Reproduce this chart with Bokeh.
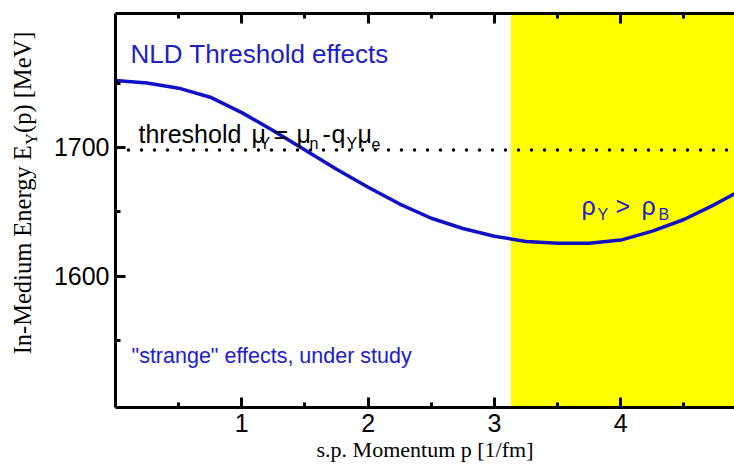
import math
from bokeh.plotting import figure
from bokeh.layouts import row
from bokeh.models import Range1d, Label, BoxAnnotation, Span, FixedTicker, LinearAxis
from bokeh.embed import file_html
from bokeh.resources import INLINE

# ---------------- data ----------------
momentum = [0.0, 0.25, 0.5, 0.75, 1.0, 1.25, 1.5, 1.75, 2.0, 2.25, 2.5, 2.75,
            3.0, 3.25, 3.5, 3.75, 4.0, 4.25, 4.5, 4.75, 4.9]
energy = [1752, 1750, 1746, 1739, 1727, 1713, 1698, 1683, 1669, 1656, 1645, 1637,
          1631, 1627, 1625.5, 1625.5, 1628, 1635, 1644, 1656, 1664]
threshold_energy = 1698
yellow_start = 3.13
x_major = [1, 2, 3, 4]
x_minor = [0.5, 1.5, 2.5, 3.5, 4.5]
y_major = [1600, 1700]
y_minor = [1550, 1650, 1750]
x_lim = (0.0, 4.9)
y_lim = (1498, 1804)
x_title = "s.p. Momentum p [1/fm]"

# ---------------- layout (page pixels) ----------------
PAGE_W, PAGE_H = 734, 464
LW = 50                       # width of the y-title strip
FL, FR, FT, FB = 115.0, 734.0, 13.0, 407.0   # frame edges on the page

p = figure(width=PAGE_W - LW, height=PAGE_H, x_range=Range1d(*x_lim),
           y_range=Range1d(*y_lim), toolbar_location=None, output_backend="svg",
           x_axis_type=None, y_axis_type=None,
           min_border_left=int(FL - LW), min_border_right=0,
           min_border_top=int(FT), min_border_bottom=int(PAGE_H - FB))
p.outline_line_color = None
p.xgrid.visible = False
p.ygrid.visible = False
p.background_fill_color = "white"
p.border_fill_color = "white"


def ref(px, py):
    x = x_lim[0] + (px - FL) / (FR - FL) * (x_lim[1] - x_lim[0])
    y = y_lim[1] - (py - FT) / (FB - FT) * (y_lim[1] - y_lim[0])
    return x, y


def style(ax, show_labels=True):
    ax.axis_line_width = 3
    ax.axis_line_color = "black"
    ax.major_tick_in = 10
    ax.major_tick_out = 0
    ax.minor_tick_in = 5
    ax.minor_tick_out = 0
    ax.major_tick_line_width = 3
    ax.minor_tick_line_width = 3
    ax.major_label_text_font = "Liberation Sans"
    ax.major_label_text_color = "black"
    if show_labels:
        ax.major_label_text_font_size = "25px"
        ax.major_label_standoff = 6
    else:
        ax.major_label_text_font_size = "1px"
        ax.major_label_standoff = 0
        ax.major_label_overrides = {t: "" for t in x_major}


bx = LinearAxis(ticker=FixedTicker(ticks=x_major, minor_ticks=x_minor))
style(bx)
bx.major_label_standoff = 6
bx.axis_label = x_title
bx.axis_label_text_font = "Liberation Serif"
bx.axis_label_text_font_size = "22px"
bx.axis_label_text_font_style = "normal"
bx.axis_label_text_color = "black"
bx.axis_label_standoff = 2
p.add_layout(bx, "below")

ly = LinearAxis(ticker=FixedTicker(ticks=y_major, minor_ticks=y_minor))
style(ly)
p.add_layout(ly, "left")

ax_top = LinearAxis(ticker=FixedTicker(ticks=x_major, minor_ticks=x_minor))
style(ax_top, show_labels=False)
p.add_layout(ax_top, "above")

# yellow region
p.add_layout(BoxAnnotation(left=yellow_start, fill_color="#ffff00", fill_alpha=1.0,
                           line_alpha=0, level="underlay"))
# threshold dotted line
p.add_layout(Span(location=threshold_energy, dimension="width", line_color="black",
                  line_width=3.5, line_dash="0 13", line_cap="round", level="underlay"))

# curve
p.line(momentum, energy, line_color="#1010c4", line_width=3.5)

BLUE = "#2020c8"


def txt(px, py, s, size, color="black", font="Liberation Sans"):
    x, y = ref(px, py)
    p.add_layout(Label(x=x, y=y, text=s, text_font=font, text_font_size=f"{size}px",
                       text_color=color, text_align="left", text_baseline="alphabetic"))


# in-plot texts
txt(130, 53, "NLD Threshold effects", 26, BLUE)
txt(131, 355, "\"strange\" effects, under study", 21.5, BLUE)

# threshold mu_Y = mu_n - q_Y mu_e
txt(138, 133, "threshold", 25)
txt(251, 133, "\u03bc", 25)
txt(259, 143, "Y", 16)
txt(273, 133, "=", 25)
txt(296, 133, "\u03bc", 25)
txt(309, 143, "n", 16)
txt(322, 133, "-", 25)
txt(331, 133, "q", 25)
txt(346, 143, "Y", 16)
txt(357, 133, "\u03bc", 25)
txt(371, 143, "e", 16)

# rho_Y > rho_B
txt(581, 205, "\u03c1", 25, BLUE)
txt(597, 214, "Y", 16, BLUE)
txt(615, 205, ">", 25, BLUE)
txt(641, 205, "\u03c1", 25, BLUE)
txt(658, 214, "B", 16, BLUE)

# ---------------- y title strip (frame aligned with the main frame) ----------------
yf = figure(width=LW, height=PAGE_H, x_range=Range1d(0, LW),
            y_range=Range1d(PAGE_H - FB, PAGE_H - FT),
            toolbar_location=None, output_backend="svg", x_axis_type=None,
            y_axis_type=None, min_border_left=0, min_border_right=0,
            min_border_top=int(FT), min_border_bottom=int(PAGE_H - FB))
yf.outline_line_color = None
yf.xgrid.visible = False
yf.ygrid.visible = False
yf.border_fill_color = "white"
yf.background_fill_color = "white"

A = math.pi / 2


def ytxt(px, py, s, size):
    yf.add_layout(Label(x=px, y=PAGE_H - py, text=s, text_font="Liberation Serif",
                        text_font_size=f"{size}px", text_color="black", angle=A,
                        text_align="center", text_baseline="alphabetic"))


# full title with a gap where the subscript goes; subscript drawn separately
ytxt(22, 192.5, "In-Medium Energy E\u2002(p) [MeV]", 24.5)
ytxt(31, 138.5, "Y", 16)

layout = row(yf, p, spacing=0)
open("out.html", "w").write(file_html(layout, INLINE))
